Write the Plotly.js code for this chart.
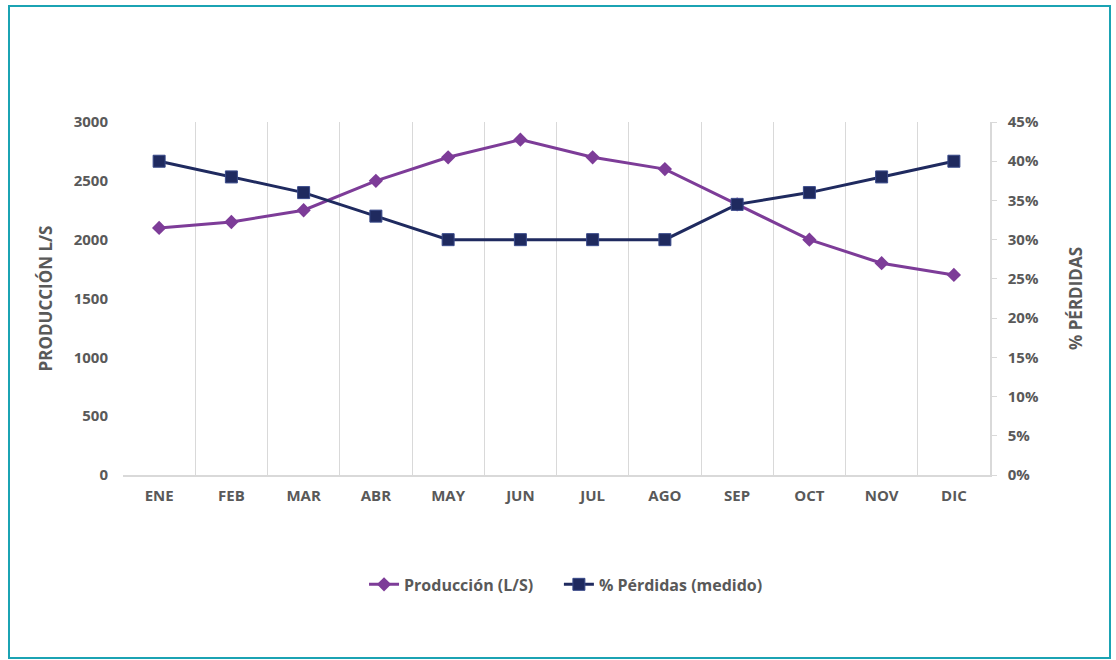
<!DOCTYPE html>
<html>
<head>
<meta charset="utf-8">
<script src="https://cdn.plot.ly/plotly-3.0.1.min.js"></script>
<style>
html,body{margin:0;padding:0;background:#fff;}
#chart{width:1116px;height:660px;}
#frame{position:absolute;left:8px;top:5px;width:1099px;height:650px;border:2px solid #1ba3b3;pointer-events:none;}
</style>
</head>
<body>
<div id="chart"></div>
<div id="frame"></div>
<script>
const months = ["ENE","FEB","MAR","ABR","MAY","JUN","JUL","AGO","SEP","OCT","NOV","DIC"];
const produccion = [2100,2150,2250,2500,2700,2850,2700,2600,2300,2000,1800,1700];
const perdidas = [0.40,0.38,0.36,0.33,0.30,0.30,0.30,0.30,0.345,0.36,0.38,0.40];

const fontFam = "'Open Sans', Lato, sans-serif";
const grey = "#595959";

const traces = [
  {
    x: months, y: produccion, name: "Producción (L/S)\u00A0\u00A0\u00A0\u00A0\u00A0", type: "scatter", mode: "lines+markers",
    line: {color: "#7d3c98", width: 3},
    marker: {symbol: "diamond", size: 11, color: "#7d3c98"},
    yaxis: "y"
  },
  {
    x: months, y: perdidas, name: "% Pérdidas (medido)", type: "scatter", mode: "lines+markers",
    line: {color: "#1f2a5f", width: 3},
    marker: {symbol: "square", size: 12, color: "#1f2a5f", line: {color: "#3a4a8a", width: 1}},
    yaxis: "y2"
  }
];

const layout = {
  width: 1116, height: 660,
  margin: {l: 123, r: 126, t: 122, b: 185},
  paper_bgcolor: "#fff", plot_bgcolor: "#fff",
  font: {family: fontFam, color: grey, size: 15, weight: "bold"},
  showlegend: true,
  legend: {orientation: "h", x: 0.511, xanchor: "center", y: -0.31, yanchor: "middle",
           font: {size: 16, color: grey, family: fontFam, weight: "bold"}, tracegroupgap: 0},
  xaxis: {
    type: "category", tickson: "boundaries", showgrid: true, gridcolor: "#d9d9d9", gridwidth: 1,
    ticks: "", showline: true, linecolor: "#d9d9d9", linewidth: 1.5,
    tickfont: {size: 15, color: grey, family: fontFam, weight: "bold"},
    range: [-0.5, 11.5], zeroline: false, ticklabelstandoff: 6
  },
  yaxis: {
    range: [0, 3000], dtick: 500, showgrid: false, zeroline: false, showline: false, ticks: "",
    tickfont: {size: 15, color: grey, family: fontFam, weight: "bold"},
    ticklabelstandoff: 14,
    title: {text: "PRODUCCIÓN L/S", font: {size: 17, color: grey, family: fontFam, weight: "bold"}, standoff: 16}
  },
  yaxis2: {
    overlaying: "y", side: "right", range: [0, 0.45], dtick: 0.05, tickformat: ".0%",
    showgrid: false, zeroline: false, showline: true, linecolor: "#d9d9d9", linewidth: 1.5,
    ticks: "outside", ticklen: 5, tickcolor: "#d9d9d9",
    tickfont: {size: 15, color: grey, family: fontFam, weight: "bold"},
    ticklabelstandoff: 8,
    title: {text: "% PÉRDIDAS", font: {size: 17, color: grey, family: fontFam, weight: "bold"}, standoff: 32}
  }
};

Plotly.newPlot("chart", traces, layout, {displayModeBar: false, responsive: false});
</script>
</body>
</html>
